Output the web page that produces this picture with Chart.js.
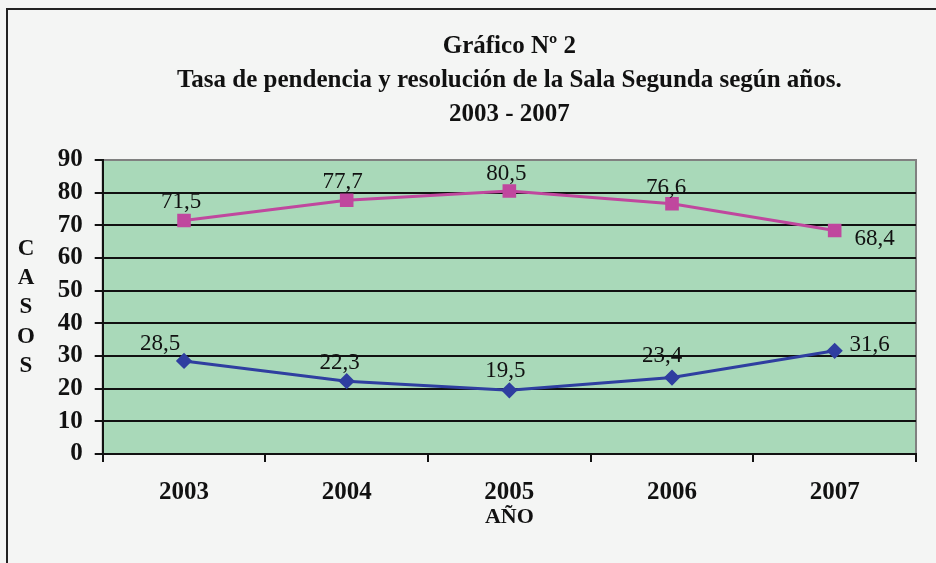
<!DOCTYPE html>
<html>
<head>
<meta charset="utf-8">
<script src="https://cdn.jsdelivr.net/npm/chart.js@4.4.0/dist/chart.umd.min.js"></script>
<style>
  html, body { margin: 0; padding: 0; background: #f4f5f4; }
  #wrap { width: 936px; height: 563px; }
</style>
</head>
<body>
<div id="wrap"><canvas id="tasaChart" width="936" height="563"></canvas></div>
<script>
// Años y tasas (pendencia / resolución)
const years = ['2003', '2004', '2005', '2006', '2007'];
const resolucion = [71.5, 77.7, 80.5, 76.6, 68.4];
const pendencia = [28.5, 22.3, 19.5, 23.4, 31.6];
const yTicks = [0, 10, 20, 30, 40, 50, 60, 70, 80, 90];

const SERIF = '"Liberation Serif", "Times New Roman", serif';
const PINK = '#c0479e';
const BLUE = '#2f3ea0';

// label placement per dataset/point (dx, dy relative to the point)
const labelPlace = [
  [[-3, -18], [-4, -18], [-3, -17], [-6, -16], [40, 8]],
  [[-24, -17], [-7, -18], [-4, -19], [-10, -22], [35, -6]]
];

const fmt = v => v.toFixed(1).replace('.', ',');

const backdrop = {
  id: 'backdrop',
  beforeDraw(chart) {
    const ctx = chart.ctx;
    const a = chart.chartArea;
    ctx.save();
    // outer frame
    ctx.strokeStyle = '#222';
    ctx.lineWidth = 2;
    ctx.beginPath();
    ctx.moveTo(7, 563);
    ctx.lineTo(7, 9);
    ctx.lineTo(936, 9);
    ctx.stroke();
    // plot area
    ctx.fillStyle = '#a9d9b9';
    ctx.fillRect(a.left, a.top, a.right - a.left, a.bottom - a.top);
    ctx.strokeStyle = '#808080';
    ctx.lineWidth = 2;
    ctx.strokeRect(a.left, a.top, a.right - a.left, a.bottom - a.top);
    // vertical axis title, letters stacked
    ctx.fillStyle = '#111';
    ctx.font = 'bold 23px ' + SERIF;
    ctx.textAlign = 'center';
    ctx.textBaseline = 'middle';
    'CASOS'.split('').forEach((ch, i) => ctx.fillText(ch, 26, 249 + i * 29.2));
    ctx.restore();
  },
  afterDatasetsDraw(chart) {
    const ctx = chart.ctx;
    ctx.save();
    ctx.fillStyle = '#111';
    ctx.font = '23px ' + SERIF;
    ctx.textAlign = 'center';
    ctx.textBaseline = 'middle';
    chart.data.datasets.forEach((ds, di) => {
      chart.getDatasetMeta(di).data.forEach((pt, i) => {
        const off = labelPlace[di][i];
        ctx.fillText(fmt(ds.data[i]), pt.x + off[0], pt.y + off[1]);
      });
    });
    ctx.restore();
  }
};

new Chart(document.getElementById('tasaChart').getContext('2d'), {
  type: 'line',
  data: {
    labels: years,
    datasets: [{
      label: 'Resolución',
      data: resolucion,
      borderColor: PINK,
      backgroundColor: PINK,
      borderWidth: 3,
      pointStyle: 'rect',
      pointRadius: 7.5,
      tension: 0
    }, {
      label: 'Pendencia',
      data: pendencia,
      borderColor: BLUE,
      backgroundColor: BLUE,
      borderWidth: 3,
      pointStyle: 'rectRot',
      pointRadius: 6,
      tension: 0
    }]
  },
  options: {
    responsive: false,
    animation: false,
    layout: { padding: { left: 40, right: 20, top: 0, bottom: 29 } },
    plugins: {
      legend: { display: false },
      tooltip: { enabled: false },
      title: {
        display: true,
        fullSize: false,
        text: ['Gráfico Nº 2', 'Tasa de pendencia y resolución de la Sala Segunda según años.', '2003 - 2007'],
        color: '#111',
        font: { family: SERIF, size: 25, weight: 'bold', lineHeight: 1.36 },
        padding: { top: 30, bottom: 28 }
      }
    },
    scales: {
      x: {
        offset: true,
        grid: {
          offset: true,
          drawOnChartArea: false,
          drawTicks: true,
          tickLength: 8,
          tickColor: '#111',
          lineWidth: 2
        },
        border: { color: '#111', width: 2 },
        ticks: {
          color: '#111',
          padding: 16,
          font: { family: SERIF, size: 25, weight: 'bold' }
        },
        title: {
          display: true,
          text: 'AÑO',
          color: '#111',
          font: { family: SERIF, size: 22, weight: 'bold' },
          padding: { top: 0, bottom: 3 }
        },
        afterFit(scale) { scale.height = 80; }
      },
      y: {
        min: 0,
        max: 90,
        afterBuildTicks(scale) { scale.ticks = yTicks.map(v => ({ value: v })); },
        grid: {
          color: ctx => ctx.tick && ctx.tick.value === 90 ? '#808080' : '#111',
          tickColor: '#111',
          lineWidth: 2,
          tickLength: 8
        },
        border: { color: '#111', width: 2 },
        ticks: {
          autoSkip: false,
          color: '#111',
          padding: 12,
          font: { family: SERIF, size: 25, weight: 'bold' }
        },
        afterFit(scale) { scale.width = 62.7; }
      }
    }
  },
  plugins: [backdrop]
});
</script>
</body>
</html>
